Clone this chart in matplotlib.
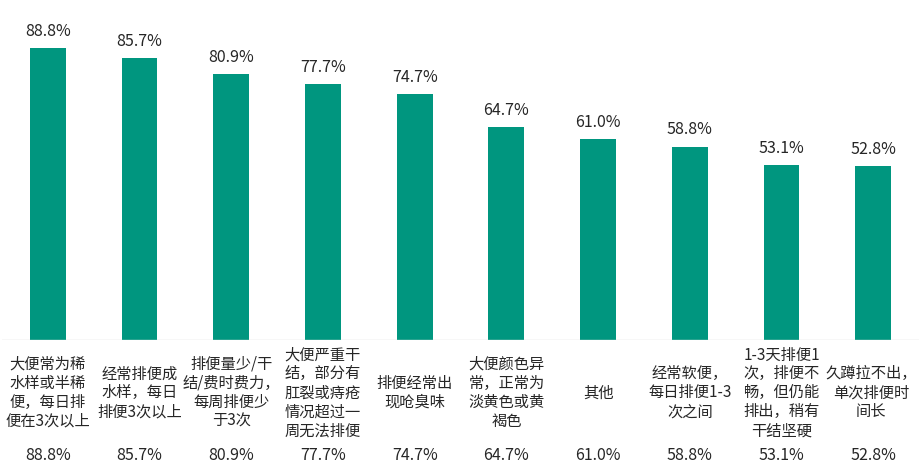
import matplotlib
matplotlib.use("Agg")
import matplotlib.pyplot as plt
import numpy as np

plt.rcParams['font.family'] = ['Noto Sans CJK SC', 'DejaVu Sans']

categories = [
    "大便常为稀\n水样或半稀\n便，每日排\n便在3次以上",
    "经常排便成\n水样，每日\n排便3次以上",
    "排便量少/干\n结/费时费力，\n每周排便少\n于3次",
    "大便严重干\n结，部分有\n肛裂或痔疮\n情况超过一\n周无法排便",
    "排便经常出\n现呛臭味",
    "大便颜色异\n常，正常为\n淡黄色或黄\n褐色",
    "其他",
    "经常软便，\n每日排便1-3\n次之间",
    "1-3天排便1\n次，排便不\n畅，但仍能\n排出，稍有\n干结坚硬",
    "久蹲拉不出，\n单次排便时\n间长",
]
values = [88.8, 85.7, 80.9, 77.7, 74.7, 64.7, 61.0, 58.8, 53.1, 52.8]

bar_color = "#00967f"
text_color = "#262626"

fig = plt.figure(figsize=(9.19, 4.74), dpi=100)
ax = fig.add_axes([2 / 919, (474 - 340) / 474, 917 / 919, 329 / 474])

x = np.arange(len(values))
ax.bar(x, values, width=0.39, color=bar_color)
ax.set_xlim(-0.5, len(values) - 0.5)
ax.set_ylim(0, 100)
ax.axis("off")
ax.axhline(0, color="#d9d9d9", lw=1)

for i, v in enumerate(values):
    ax.annotate(f"{v:.1f}%", (i, v), xytext=(0, 12), textcoords="offset points",
                ha="center", va="center", fontsize=11.5, color=text_color)
    # category label below the axis
    dx = -1.5 if i == len(values) - 1 else 0
    ax.annotate(categories[i], (i, 0), xytext=(dx, -38), textcoords="offset points",
                ha="center", va="center", fontsize=11, color=text_color,
                linespacing=1.15)
    ax.annotate(f"{v:.1f}%", (i, 0), xytext=(0, -83), textcoords="offset points",
                ha="center", va="center", fontsize=11.5, color=text_color)

fig.savefig("out.png", dpi=100)
